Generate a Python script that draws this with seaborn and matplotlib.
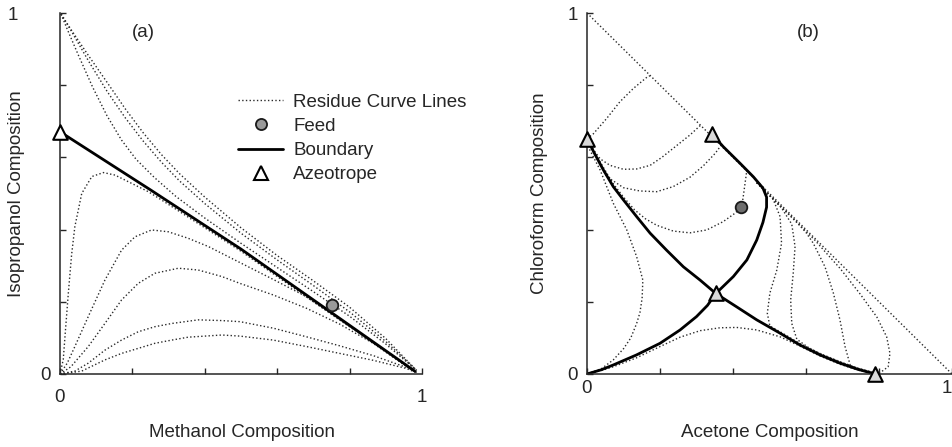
import numpy as np
import pandas as pd
import matplotlib
matplotlib.use("Agg")
import matplotlib.pyplot as plt
import matplotlib.transforms as mtransforms
from matplotlib.lines import Line2D
import seaborn as sns

# ---------------- Panel (a): methanol / isopropanol ----------------
a_boundary_x = [0.0, 0.25, 0.50, 0.75, 0.98]
a_boundary_y = [0.671, 0.510, 0.346, 0.170, 0.008]

a_u1_x = [0.003, 0.02, 0.05, 0.09, 0.13, 0.17, 0.21, 0.26, 0.32, 0.40, 0.50, 0.60, 0.70, 0.80, 0.90, 0.985]
a_u1_y = [0.997, 0.955, 0.885, 0.795, 0.715, 0.648, 0.595, 0.545, 0.492, 0.432, 0.362, 0.295, 0.228, 0.160, 0.083, 0.010]
a_u2_x = [0.003, 0.03, 0.08, 0.13, 0.18, 0.23, 0.28, 0.33, 0.40, 0.50, 0.60, 0.70, 0.80, 0.90, 0.985]
a_u2_y = [0.997, 0.952, 0.865, 0.783, 0.710, 0.645, 0.587, 0.535, 0.472, 0.390, 0.316, 0.245, 0.172, 0.090, 0.010]
a_u3_x = [0.003, 0.03, 0.08, 0.13, 0.18, 0.23, 0.28, 0.33, 0.40, 0.50, 0.60, 0.70, 0.80, 0.90, 0.985]
a_u3_y = [0.997, 0.955, 0.880, 0.808, 0.735, 0.668, 0.608, 0.555, 0.490, 0.405, 0.328, 0.258, 0.185, 0.098, 0.010]

a_l1_x = [0.0, 0.009, 0.015, 0.023, 0.032, 0.041, 0.060, 0.088, 0.120, 0.152, 0.198, 0.244, 0.290, 0.40, 0.50, 0.60, 0.70, 0.80, 0.90, 0.985]
a_l1_y = [0.0, 0.040, 0.120, 0.224, 0.330, 0.408, 0.500, 0.547, 0.558, 0.551, 0.528, 0.505, 0.476, 0.405, 0.340, 0.270, 0.200, 0.131, 0.062, 0.005]
a_l2_x = [0.0, 0.02, 0.041, 0.078, 0.124, 0.170, 0.207, 0.253, 0.299, 0.354, 0.410, 0.465, 0.520, 0.589, 0.681, 0.773, 0.865, 0.958, 0.985]
a_l2_y = [0.0, 0.030, 0.076, 0.159, 0.260, 0.343, 0.380, 0.399, 0.394, 0.376, 0.353, 0.325, 0.297, 0.262, 0.214, 0.150, 0.087, 0.022, 0.004]
a_l3_x = [0.0, 0.03, 0.078, 0.124, 0.170, 0.216, 0.262, 0.327, 0.382, 0.447, 0.497, 0.589, 0.681, 0.773, 0.865, 0.958, 0.985]
a_l3_y = [0.0, 0.020, 0.076, 0.140, 0.205, 0.251, 0.279, 0.293, 0.288, 0.270, 0.251, 0.219, 0.182, 0.138, 0.085, 0.020, 0.004]
a_l4_x = [0.0, 0.041, 0.078, 0.124, 0.170, 0.216, 0.262, 0.309, 0.382, 0.447, 0.497, 0.589, 0.681, 0.773, 0.865, 0.958, 0.985]
a_l4_y = [0.0, 0.008, 0.030, 0.066, 0.094, 0.117, 0.131, 0.140, 0.150, 0.148, 0.145, 0.127, 0.103, 0.078, 0.051, 0.018, 0.004]
a_l5_x = [0.0, 0.06, 0.124, 0.170, 0.216, 0.262, 0.309, 0.354, 0.447, 0.497, 0.589, 0.681, 0.773, 0.865, 0.958, 0.985]
a_l5_y = [0.0, 0.008, 0.039, 0.057, 0.071, 0.085, 0.094, 0.102, 0.108, 0.105, 0.094, 0.076, 0.057, 0.038, 0.015, 0.003]

a_feed_x = [0.752]
a_feed_y = [0.192]
a_azeo_x = [0.0]
a_azeo_y = [0.671]

# ---------------- Panel (b): acetone / chloroform ----------------
b_b1_x = [0.0, 0.02, 0.045, 0.072, 0.100, 0.136, 0.173, 0.218, 0.264, 0.310, 0.353, 0.410, 0.465, 0.529, 0.584, 0.638, 0.693, 0.739, 0.789]
b_b1_y = [0.652, 0.612, 0.565, 0.519, 0.482, 0.436, 0.390, 0.343, 0.297, 0.260, 0.223, 0.186, 0.150, 0.113, 0.080, 0.053, 0.030, 0.014, 0.0]
b_b2_x = [0.0, 0.04, 0.072, 0.136, 0.200, 0.255, 0.300, 0.330, 0.353, 0.401, 0.438, 0.465, 0.482, 0.492, 0.492, 0.482, 0.456, 0.419, 0.373, 0.343]
b_b2_y = [0.0, 0.012, 0.025, 0.053, 0.085, 0.122, 0.159, 0.190, 0.223, 0.270, 0.316, 0.371, 0.420, 0.462, 0.490, 0.515, 0.546, 0.584, 0.630, 0.664]

b_hyp_x = [0.0, 1.0]
b_hyp_y = [1.0, 0.0]
b_r2_x = [0.0, 0.017, 0.054, 0.090, 0.127, 0.164, 0.172]
b_r2_y = [0.652, 0.665, 0.708, 0.754, 0.791, 0.822, 0.826]
b_r3_x = [0.0, 0.015, 0.036, 0.063, 0.100, 0.136, 0.173, 0.205, 0.236, 0.282, 0.310]
b_r3_y = [0.652, 0.625, 0.596, 0.578, 0.567, 0.568, 0.578, 0.600, 0.625, 0.662, 0.688]
b_r4_x = [0.0, 0.017, 0.054, 0.100, 0.145, 0.191, 0.236, 0.282, 0.319, 0.351, 0.365]
b_r4_y = [0.652, 0.616, 0.547, 0.516, 0.507, 0.505, 0.519, 0.545, 0.577, 0.611, 0.630]
b_r5_x = [0.0, 0.02, 0.045, 0.072, 0.100, 0.130, 0.160, 0.191, 0.236, 0.282, 0.328, 0.373, 0.405, 0.424, 0.428, 0.433, 0.438]
b_r5_y = [0.652, 0.615, 0.572, 0.527, 0.490, 0.455, 0.430, 0.412, 0.396, 0.391, 0.399, 0.422, 0.445, 0.463, 0.491, 0.528, 0.565]
b_r6_x = [0.0, 0.008, 0.036, 0.072, 0.109, 0.136, 0.153, 0.151, 0.145, 0.136, 0.120, 0.100, 0.072, 0.040, 0.0]
b_r6_y = [0.652, 0.620, 0.565, 0.473, 0.399, 0.325, 0.260, 0.210, 0.170, 0.140, 0.100, 0.070, 0.039, 0.015, 0.0]
b_r7_x = [0.0, 0.04, 0.072, 0.136, 0.200, 0.255, 0.310, 0.364, 0.410, 0.465, 0.529, 0.584, 0.638, 0.693, 0.739, 0.785]
b_r7_y = [0.0, 0.010, 0.020, 0.045, 0.076, 0.102, 0.120, 0.128, 0.129, 0.122, 0.103, 0.077, 0.050, 0.027, 0.012, 0.002]
b_ra_x = [0.465, 0.49, 0.510, 0.529, 0.533, 0.520, 0.501, 0.494, 0.501, 0.529, 0.584, 0.638, 0.693, 0.739, 0.789]
b_ra_y = [0.530, 0.505, 0.484, 0.436, 0.362, 0.288, 0.224, 0.168, 0.133, 0.117, 0.084, 0.057, 0.034, 0.017, 0.003]
b_rb_x = [0.465, 0.50, 0.533, 0.561, 0.570, 0.565, 0.558, 0.561, 0.575, 0.61, 0.65, 0.70, 0.745, 0.789]
b_rb_y = [0.530, 0.495, 0.460, 0.415, 0.353, 0.279, 0.205, 0.140, 0.096, 0.071, 0.051, 0.031, 0.015, 0.003]
b_rc_x = [0.465, 0.52, 0.575, 0.600, 0.620, 0.652, 0.675, 0.693, 0.707, 0.721, 0.745, 0.789]
b_rc_y = [0.530, 0.475, 0.420, 0.392, 0.362, 0.297, 0.224, 0.150, 0.076, 0.025, 0.010, 0.002]
b_rd_x = [0.465, 0.55, 0.625, 0.660, 0.693, 0.748, 0.794, 0.821, 0.830, 0.825, 0.805, 0.789]
b_rd_y = [0.530, 0.445, 0.370, 0.330, 0.293, 0.222, 0.158, 0.103, 0.057, 0.020, 0.005, 0.0]

b_feed_x = [0.422]
b_feed_y = [0.463]
b_azeo_x = [0.0, 0.343, 0.353, 0.789]
b_azeo_y = [0.652, 0.664, 0.223, 0.0]

tick_vals = [0.0, 0.2, 0.4, 0.6, 0.8, 1.0]
tick_text = ["0", "", "", "", "", "1"]

legend_labels = ["Residue Curve Lines", "Feed", "Boundary", "Azeotrope"]


def long_df(curves):
    frames = []
    for i, (xs, ys) in enumerate(curves):
        frames.append(pd.DataFrame({"x": xs, "y": ys, "curve": i,
                                    "order": np.arange(len(xs))}))
    return pd.concat(frames, ignore_index=True)


sns.set_style("ticks")
plt.rcParams["font.family"] = ["Liberation Sans", "DejaVu Sans"]
plt.rcParams["font.size"] = 13.5

W, H = 953, 447
fig = plt.figure(figsize=(W / 100, H / 100), dpi=100)
axA = fig.add_axes([60 / W, 1 - 374 / H, 362 / W, 361 / H])
axB = fig.add_axes([587 / W, 1 - 374 / H, 365 / W, 361 / H])

DOT = dict(color="#2a2a2a", lw=1.0, linestyle=":")
SOLID = dict(color="black", lw=2.0, linestyle="-")


def draw(ax, residue, bounds, feed, azeo, feed_face, azeo_face):
    rc = long_df(residue)
    sns.lineplot(data=rc, x="x", y="y", units="curve", estimator=None,
                 sort=False, legend=False, ax=ax, **DOT)
    bd = long_df(bounds)
    sns.lineplot(data=bd, x="x", y="y", units="curve", estimator=None,
                 sort=False, legend=False, ax=ax, **SOLID)
    sns.scatterplot(x=feed[0], y=feed[1], marker="o", s=70, color=feed_face,
                    edgecolor="#1a1a1a", linewidth=1.3, ax=ax, zorder=5,
                    clip_on=False, legend=False)
    sns.scatterplot(x=azeo[0], y=azeo[1], marker="^", s=110, color=azeo_face,
                    edgecolor="black", linewidth=1.5, ax=ax, zorder=6,
                    clip_on=False, legend=False)
    ax.set_xlim(0, 1)
    ax.set_ylim(0, 1)
    ax.set_xticks(tick_vals)
    ax.set_xticklabels(tick_text)
    ax.set_yticks(tick_vals)
    ax.set_yticklabels(tick_text)
    ax.tick_params(direction="in", length=4, width=1.0, labelsize=13.5)
    for s in ("top", "right"):
        ax.spines[s].set_visible(False)
    for s in ("left", "bottom"):
        ax.spines[s].set_linewidth(1.1)


draw(axA,
     [(a_u1_x, a_u1_y), (a_u2_x, a_u2_y), (a_u3_x, a_u3_y),
      (a_l1_x, a_l1_y), (a_l2_x, a_l2_y), (a_l3_x, a_l3_y),
      (a_l4_x, a_l4_y), (a_l5_x, a_l5_y)],
     [(a_boundary_x, a_boundary_y)],
     (a_feed_x, a_feed_y), (a_azeo_x, a_azeo_y), "#9a9a9a", "white")

draw(axB,
     [(b_hyp_x, b_hyp_y), (b_r2_x, b_r2_y), (b_r3_x, b_r3_y),
      (b_r4_x, b_r4_y), (b_r5_x, b_r5_y), (b_r6_x, b_r6_y),
      (b_r7_x, b_r7_y), (b_ra_x, b_ra_y), (b_rb_x, b_rb_y),
      (b_rc_x, b_rc_y), (b_rd_x, b_rd_y)],
     [(b_b1_x, b_b1_y), (b_b2_x, b_b2_y)],
     (b_feed_x, b_feed_y), (b_azeo_x, b_azeo_y), "#6e6e6e", "#d9d9d9")

axA.tick_params(axis="x", pad=11)
axA.tick_params(axis="y", pad=7)
axB.tick_params(axis="x", pad=4)
axB.tick_params(axis="y", pad=6.5)

# the top "1" of panel (a) sits further left in the reference
lab = axA.get_yticklabels()[-1]
lab.set_transform(lab.get_transform() +
                  mtransforms.ScaledTranslation(-0.32, 0, fig.dpi_scale_trans))
# keep the right-most "1" of panel (b) inside the figure
labB = axB.get_xticklabels()[-1]
labB.set_transform(labB.get_transform() +
                   mtransforms.ScaledTranslation(-0.05, 0, fig.dpi_scale_trans))

axA.set_xlabel("Methanol Composition", va="center")
axA.xaxis.set_label_coords(0.503, -0.163)
axA.set_ylabel("Isopropanol Composition", va="center")
axA.yaxis.set_label_coords(-0.119, 0.5)
axB.set_xlabel("Acetone Composition", va="center")
axB.xaxis.set_label_coords(0.501, -0.163)
axB.set_ylabel("Chloroform Composition", va="center")
axB.yaxis.set_label_coords(-0.129, 0.5)

axA.text(0.229, 0.945, "(a)", transform=axA.transAxes, ha="center", va="center")
axB.text(0.605, 0.945, "(b)", transform=axB.transAxes, ha="center", va="center")

handles = [
    Line2D([], [], **DOT),
    Line2D([], [], marker="o", linestyle="none", markersize=8,
           markerfacecolor="#9a9a9a", markeredgecolor="#1a1a1a", markeredgewidth=1.3),
    Line2D([], [], **SOLID),
    Line2D([], [], marker="^", linestyle="none", markersize=10,
           markerfacecolor="white", markeredgecolor="black", markeredgewidth=1.5),
]
axA.legend(handles, legend_labels, loc="upper left",
           bbox_to_anchor=(0.492, 0.776), frameon=False, borderpad=0,
           borderaxespad=0, handlelength=2.4, handletextpad=0.55,
           labelspacing=0.37, fontsize=13.5)

fig.savefig("out.png", dpi=100)
